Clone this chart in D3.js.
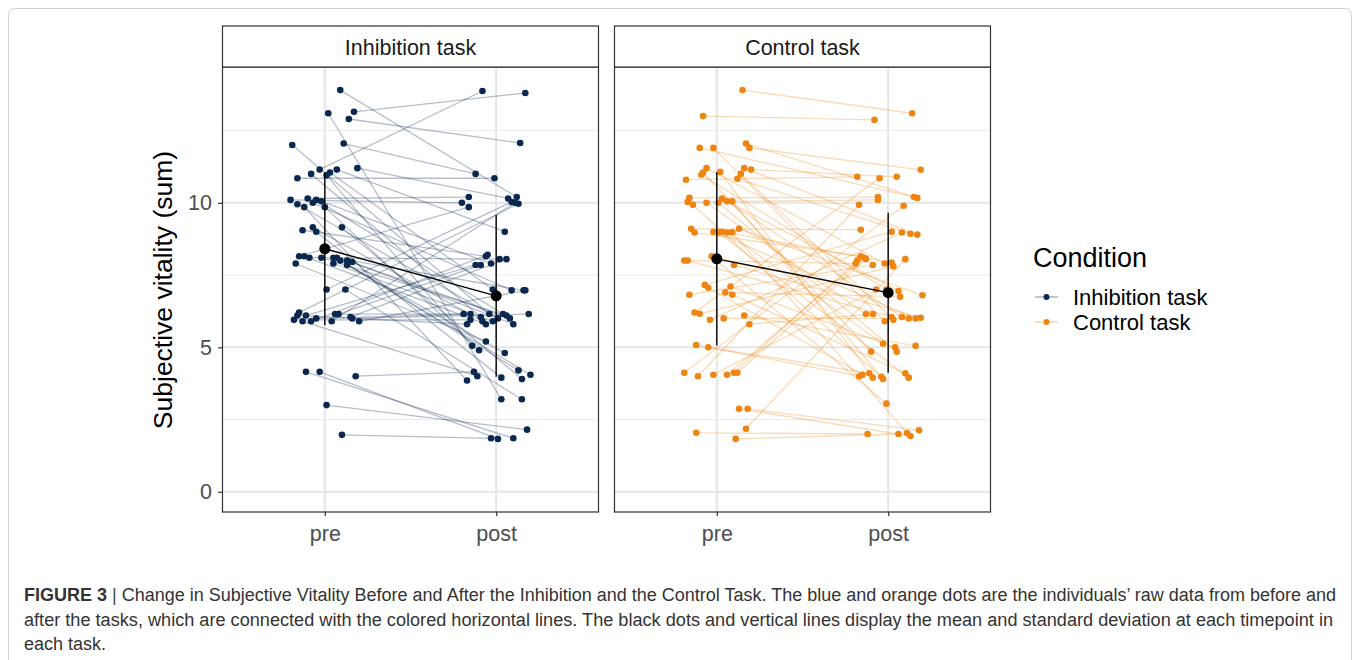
<!DOCTYPE html>
<html><head><meta charset="utf-8">
<script src="https://cdn.jsdelivr.net/npm/d3@7"></script>
<style>body{margin:0;background:#fff}svg{display:block}</style>
</head><body>
<svg id="c" width="1360" height="660"></svg>
<script>
// ---------- data ----------
const panels = ["Inhibition task", "Control task"];
const timeLabels = ["pre", "post"];
const yTicks = [0, 5, 10];

// Inhibition task (paired by index), values and horizontal jitter (in category units)
const inhPre = [13.9,13.1,13.15,12.9,12.0,12.05,11.2,11.15,11.15,11.05,11.0,10.95,10.85,10.1,9.95,9.85,10.15,10.0,10.1,9.85,10.05,9.05,9.15,9.0,9.15,8.15,8.15,8.1,7.9,8.1,8.1,8.1,7.9,8.0,7.85,8.0,7.95,7.0,7.0,6.2,5.95,5.9,5.9,6.0,5.9,6.15,6.15,6.05,6.0,5.9,6.1,6.1,4.15,4.15,4.0,3.0,1.97];
const inhPost = [10.2,3.2,13.8,12.07,6.15,11.0,10.15,9.0,13.87,7.0,6.05,5.05,10.85,10.0,6.0,3.85,10.2,6.97,6.15,4.9,7.9,8.15,5.9,3.95,3.9,9.85,5.8,8.05,5.2,6.1,6.97,4.2,5.9,4.05,4.8,6.0,5.8,10.03,3.2,9.97,5.95,4.0,8.2,6.15,10.0,6.15,7.85,8.05,6.15,6.97,5.8,7.85,1.85,1.83,4.15,2.15,1.85];
const inhPreJit = [.09,.02,.17,.14,-.19,.11,.19,.07,-.03,.03,-.08,.01,-.16,-.2,-.16,-.12,-.1,-.07,-.05,0,-.02,-.13,-.07,-.05,.1,-.15,-.12,-.09,-.17,-.02,.05,.07,.05,.09,.13,.13,.16,.01,.12,-.15,-.18,-.13,-.08,-.05,.04,.06,.08,.15,.16,.2,-.16,-.11,-.11,-.03,.18,.01,.1];
const inhPostJit = [.12,.03,.17,.14,-.04,-.12,.07,.05,-.08,-.02,-.09,-.14,-.01,-.2,.01,-.17,-.16,.09,.04,-.1,-.03,-.06,-.08,.03,.15,-.16,-.06,.02,-.06,.06,.16,.13,-.02,.2,.05,.08,.1,.09,.15,.13,-.15,-.11,-.05,-.19,.11,-.15,-.09,.06,.19,.17,-.17,-.12,.1,.01,-.13,.18,-.03];

// Control task
const ctrlPre = [13.9,13.0,11.9,11.9,12.05,11.9,10.8,10.97,11.05,11.2,11.07,10.83,11.0,11.2,11.15,10.17,10.03,9.93,10.0,10.0,10.15,10.05,10.05,9.1,8.97,9.0,8.97,9.0,8.97,8.98,9.1,8.0,8.0,8.15,7.85,7.16,7.06,6.82,7.1,6.9,6.82,6.2,6.16,5.95,6.0,6.1,5.8,5.08,5.0,4.12,4.0,4.05,4.05,4.12,4.12,2.87,2.87,2.04,2.18,1.83];
const ctrlPost = [13.1,12.87,10.2,5.9,10.17,11.14,10.9,7.0,4.85,7.9,3.95,8.93,5.95,8.9,10.9,10.2,10.1,3.9,6.15,4.85,6.95,6.05,3.98,9.07,8.15,6.0,3.95,7.93,5.12,2.03,6.8,7.9,6.05,3.05,6.02,9.0,4.05,7.85,5.0,6.75,4.1,10.85,7.8,8.97,6.0,5.05,6.15,4.0,4.1,9.9,9.93,7.0,8.1,8.0,8.05,1.93,2.13,2.0,8.05,2.0];
const ctrlPreJit = [.15,-.08,-.1,-.02,.17,.19,-.18,-.09,-.08,-.06,.02,.12,.14,.16,.2,-.16,-.17,-.14,-.06,.01,.03,.06,.09,-.15,-.13,-.02,.01,.03,.06,.09,.13,-.19,-.17,-.03,.1,-.07,-.05,-.16,.08,.05,.09,-.13,-.1,-.04,.04,.16,.19,-.12,-.05,-.19,-.11,-.02,.06,.1,.12,.13,.18,-.12,.17,.11];
const ctrlPostJit = [.14,-.08,.15,-.02,.17,.19,-.18,-.01,-.1,-.02,-.09,.13,.03,.17,.05,-.06,-.06,-.03,-.13,.05,.06,.08,-.04,-.16,-.16,.16,.12,.02,-.03,.11,.2,-.19,.02,-.01,.19,.02,-.15,-.09,.04,.07,.1,-.05,.03,.08,.12,.16,-.09,-.17,-.11,.09,-.17,-.07,-.14,-.18,-.13,.13,.18,-.12,.1,.06];

// Summary (mean, sd): [pre, post]
const inhMean = [8.41, 6.78];
const inhSD = [2.65, 2.80];
const ctrlMean = [8.06, 6.89];
const ctrlSD = [3.00, 2.77];

const legendTitle = "Condition";
const yTitle = "Subjective vitality (sum)";
const captionBold = "FIGURE 3";
const captionLines = [
  "Change in Subjective Vitality Before and After the Inhibition and the Control Task. The blue and orange dots are the individuals\u2019 raw data from before and",
  "after the tasks, which are connected with the colored horizontal lines. The black dots and vertical lines display the mean and standard deviation at each timepoint in",
  "each task."
];

// ---------- drawing ----------
const colors = ["#0b2850", "#ef8510"];
const svg = d3.select("#c");
const font = "'Liberation Sans', Arial, Helvetica, sans-serif";

// outer frame
svg.append("rect").attr("x", 8.5).attr("y", 8.5).attr("width", 1343).attr("height", 700)
  .attr("rx", 6).attr("fill", "none").attr("stroke", "#d0d0d0").attr("stroke-width", 1);

const panelTop = 67, panelBottom = 512, panelW = 377;
const panelX = [222, 614];
const y = d3.scaleLinear().domain([-0.7, 14.7]).range([panelBottom, panelTop]);

const datasets = [
  {pre: inhPre, post: inhPost, pj: inhPreJit, qj: inhPostJit, mean: inhMean, sd: inhSD},
  {pre: ctrlPre, post: ctrlPost, pj: ctrlPreJit, qj: ctrlPostJit, mean: ctrlMean, sd: ctrlSD}
];

datasets.forEach((ds, pi) => {
  const x0 = panelX[pi];
  const x = d3.scalePoint().domain(timeLabels).range([x0, x0 + panelW]).padding(0.6);
  const step = x.step();
  const g = svg.append("g");

  // minor grid
  [2.5, 7.5, 12.5].forEach(v => {
    g.append("line").attr("x1", x0).attr("x2", x0 + panelW).attr("y1", y(v)).attr("y2", y(v))
      .attr("stroke", "#ebebeb").attr("stroke-width", 1);
  });
  // major grid
  yTicks.forEach(v => {
    g.append("line").attr("x1", x0).attr("x2", x0 + panelW).attr("y1", y(v)).attr("y2", y(v))
      .attr("stroke", "#e6e6e6").attr("stroke-width", 2);
  });
  timeLabels.forEach(t => {
    g.append("line").attr("x1", x(t)).attr("x2", x(t)).attr("y1", panelTop).attr("y2", panelBottom)
      .attr("stroke", "#e6e6e6").attr("stroke-width", 2);
  });

  const n = ds.pre.length;
  const idx = d3.range(n);
  // individual lines
  g.selectAll(".ind").data(idx).join("line")
    .attr("x1", i => x("pre") + ds.pj[i] * step).attr("y1", i => y(ds.pre[i]))
    .attr("x2", i => x("post") + ds.qj[i] * step).attr("y2", i => y(ds.post[i]))
    .attr("stroke", colors[pi]).attr("stroke-opacity", 0.3).attr("stroke-width", 1.3);
  // points
  g.selectAll(".pp").data(idx).join("circle")
    .attr("cx", i => x("pre") + ds.pj[i] * step).attr("cy", i => y(ds.pre[i])).attr("r", 3.3)
    .attr("fill", colors[pi]);
  g.selectAll(".qp").data(idx).join("circle")
    .attr("cx", i => x("post") + ds.qj[i] * step).attr("cy", i => y(ds.post[i])).attr("r", 3.3)
    .attr("fill", colors[pi]);

  // SD bars
  timeLabels.forEach((t, k) => {
    g.append("line").attr("x1", x(t)).attr("x2", x(t))
      .attr("y1", y(ds.mean[k] - ds.sd[k])).attr("y2", y(ds.mean[k] + ds.sd[k]))
      .attr("stroke", "#000").attr("stroke-width", 1.4);
  });
  g.append("line").attr("x1", x("pre")).attr("y1", y(ds.mean[0]))
    .attr("x2", x("post")).attr("y2", y(ds.mean[1]))
    .attr("stroke", "#000").attr("stroke-width", 1.4);
  timeLabels.forEach((t, k) => {
    g.append("circle").attr("cx", x(t)).attr("cy", y(ds.mean[k])).attr("r", 5.5).attr("fill", "#000");
  });

  // panel border
  g.append("rect").attr("x", x0 + 0.5).attr("y", panelTop).attr("width", panelW - 1).attr("height", panelBottom - panelTop)
    .attr("fill", "none").attr("stroke", "#333").attr("stroke-width", 1.2);
  // strip
  g.append("rect").attr("x", x0 + 0.5).attr("y", 26).attr("width", panelW - 1).attr("height", panelTop - 26)
    .attr("fill", "#fff").attr("stroke", "#333").attr("stroke-width", 1.2);
  g.append("text").attr("x", x0 + panelW / 2).attr("y", 54.5).attr("text-anchor", "middle")
    .attr("font-family", font).attr("font-size", 21.5).attr("fill", "#1a1a1a").text(panels[pi]);

  // x axis
  const xa = g.append("g").attr("transform", `translate(0,${panelBottom})`)
    .call(d3.axisBottom(x).tickSize(4).tickSizeOuter(0).tickPadding(7));
  xa.select(".domain").remove();
  xa.selectAll(".tick line").attr("stroke", "#333").attr("stroke-width", 1.2);
  xa.selectAll(".tick text").attr("font-family", font).attr("font-size", 21.5).attr("fill", "#4d4d4d")
    .attr("dy", "0.85em");

  if (pi === 0) {
    const ya = g.append("g").attr("transform", `translate(${x0},0)`)
      .call(d3.axisLeft(y).tickValues(yTicks).tickSize(4).tickSizeOuter(0).tickPadding(6));
    ya.select(".domain").remove();
    ya.selectAll(".tick line").attr("stroke", "#333").attr("stroke-width", 1.2);
    ya.selectAll(".tick text").attr("font-family", font).attr("font-size", 21.5).attr("fill", "#4d4d4d");
  }
});

// y title
svg.append("text").attr("transform", "translate(172,290) rotate(-90)").attr("text-anchor", "middle")
  .attr("font-family", font).attr("font-size", 26.5).attr("fill", "#000").text(yTitle);

// legend
const lg = svg.append("g");
lg.append("text").attr("x", 1033).attr("y", 267).attr("font-family", font).attr("font-size", 27)
  .attr("fill", "#000").text(legendTitle);
panels.forEach((p, i) => {
  const cy = 297 + i * 25;
  lg.append("line").attr("x1", 1035).attr("x2", 1058).attr("y1", cy).attr("y2", cy)
    .attr("stroke", colors[i]).attr("stroke-opacity", 0.35).attr("stroke-width", 1.5);
  lg.append("circle").attr("cx", 1046.5).attr("cy", cy).attr("r", 3).attr("fill", colors[i]);
  lg.append("text").attr("x", 1073).attr("y", cy + 7.5).attr("font-family", font).attr("font-size", 22)
    .attr("fill", "#000").text(p);
});

// caption
const capFont = "'Liberation Sans Narrow', 'Arial Narrow', 'Liberation Sans', sans-serif";
const capY = [601, 626, 650];
const capWidths = [1312, 1309, null];
captionLines.forEach((line, i) => {
  const t = svg.append("text").attr("x", 24).attr("y", capY[i]).attr("font-family", capFont)
    .attr("font-size", 18).attr("fill", "#333");
  if (i === 0) {
    t.append("tspan").attr("font-weight", "bold").text(captionBold + " ");
    t.append("tspan").attr("fill", "#444").text("| ");
  }
  t.append("tspan").text(line);
  if (capWidths[i]) t.attr("textLength", capWidths[i]).attr("lengthAdjust", "spacingAndGlyphs");
});
</script>
</body></html>
